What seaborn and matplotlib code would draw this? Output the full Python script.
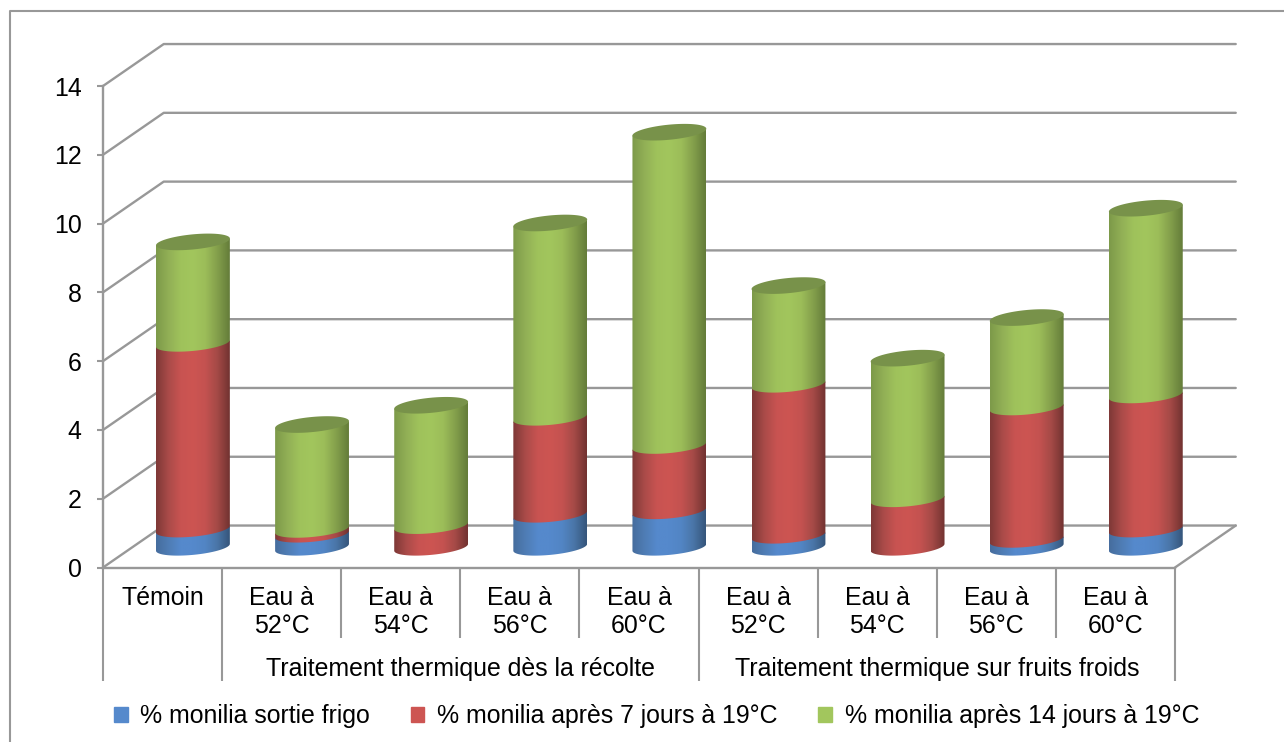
import numpy as np
import seaborn as sns
import matplotlib.pyplot as plt
from matplotlib.lines import Line2D
from matplotlib.patches import Patch, Polygon

categories = ['Témoin', 'Eau à\n52°C', 'Eau à\n54°C', 'Eau à\n56°C', 'Eau à\n60°C',
              'Eau à\n52°C', 'Eau à\n54°C', 'Eau à\n56°C', 'Eau à\n60°C']
groups = ['Traitement thermique dès la récolte', 'Traitement thermique sur fruits froids']
series_names = ['% monilia sortie frigo', '% monilia après 7 jours à 19°C', '% monilia après 14 jours à 19°C']
sortie_frigo = [0.53, 0.38, 0.0, 0.96, 1.06, 0.35, 0.0, 0.23, 0.53]
apres_7j = [5.4, 0.14, 0.63, 2.82, 1.9, 4.39, 1.41, 3.85, 3.9]
apres_14j = [2.95, 3.05, 3.5, 5.65, 9.11, 2.87, 4.09, 2.6, 5.43]
y_ticks = [0, 2, 4, 6, 8, 10, 12, 14]

grey = '#989898'
# edge to edge shading of each cylinder
shades = [['#466d9e', '#4f7db5', '#5589cc', '#5589cc', '#5285c4', '#4a76a8', '#36567c'],
          ['#7f3937', '#ab4b49', '#c85351', '#cd5552', '#c45250', '#a54a47', '#733331'],
          ['#7d9a4a', '#92b056', '#9fc25b', '#a2c65d', '#9cbd59', '#84a04c', '#657d3a']]
top_colour = '#78924a'

depth_x, depth_y = 0.51, 1.22   # back wall offset
floor = 0.587                   # bars stand half way into the floor
arc = 0.22
shear = 0.1
overlap = 0.03                  # hides the seam between two segments

sns.set_theme(style='white')
plt.rcParams['font.family'] = ['Liberation Sans', 'DejaVu Sans']
fs = 17.9

fig = plt.figure(figsize=(12.84, 7.42), dpi=100, facecolor='white')
ax = fig.add_axes([103 / 1284, 1 - 567.5 / 742, 1072 / 1284, 481.5 / 742])

x = np.arange(len(categories))
stacks = np.array([sortie_frigo, apres_7j, apres_14j])
bottoms = floor + np.vstack([np.zeros(len(x)), np.cumsum(stacks, axis=0)[:-1]])

# back wall and floor
for v in y_ticks:
    ax.plot([-0.5, -0.5 + depth_x, 8.5 + depth_x], [v, v + depth_y, v + depth_y],
            color=grey, lw=1.7, clip_on=False, zorder=1)
ax.plot([8.5, 8.5 + depth_x], [0, depth_y], color=grey, lw=1.7, clip_on=False, zorder=1)


def front_arc(cx, hw, v):
    t = np.linspace(np.pi, 0, 60)
    return cx + hw * np.cos(t), v + shear * np.cos(t) - arc * np.sin(t)


for i, name in enumerate(series_names):
    sns.barplot(x=x, y=stacks[i], bottom=bottoms[i], width=0.62, native_scale=True,
                errorbar=None, color=shades[i][3], saturation=1, ax=ax)
    gradient = np.array(sns.blend_palette(shades[i], n_colors=64))[None, :, :]
    for bar in ax.containers[-1]:
        bar.set_visible(False)
        # the cylinders sit half way into the depth
        left, w = bar.get_x() + depth_x / 2, bar.get_width()
        cx, hw = left + w / 2, w / 2
        low, high = bar.get_y(), bar.get_y() + bar.get_height()
        if low > floor:
            low -= overlap
        if i == 2:
            high += overlap
        ax_, ay_ = front_arc(cx, hw, low)
        bx_, by_ = front_arc(cx, hw, high)
        outline = np.column_stack([np.r_[ax_, bx_[::-1]], np.r_[ay_, by_[::-1]]])
        # lower segments go over the upper ones
        im = ax.imshow(gradient, extent=(left, left + w, low - 0.5, high + 0.5),
                       aspect='auto', interpolation='bilinear', zorder=3.5 - i * 0.1)
        im.set_clip_path(Polygon(outline, closed=True, transform=ax.transData))
        im.set_clip_box(fig.bbox)

# top faces
tops = floor + stacks.sum(axis=0)
for cx, v in zip(x + depth_x / 2, tops):
    t = np.linspace(0, 2 * np.pi, 120)
    ax.fill(cx + 0.31 * np.cos(t), v + shear * np.cos(t) - arc * np.sin(t),
            color=top_colour, lw=0, zorder=4, clip_on=False)

ax.set_xlim(-0.5, 8.5)
ax.set_ylim(0, 14)

sns.despine(ax=ax)
for side in ['left', 'bottom']:
    ax.spines[side].set_color(grey)
    ax.spines[side].set_linewidth(1.7)

ax.set_yticks(y_ticks)
ax.set_yticklabels([str(v) for v in y_ticks], fontsize=fs, color='black')
ax.tick_params(axis='y', left=True, length=4.3, width=1.5, color=grey, pad=11)
ax.set_xticks([-0.5, 0.5, 4.5, 8.5])
ax.set_xticklabels([])
ax.set_xticks([1.5, 2.5, 3.5, 5.5, 6.5, 7.5], minor=True)
ax.tick_params(axis='x', which='major', bottom=True, length=81.5, width=1.5, color=grey)
ax.tick_params(axis='x', which='minor', bottom=True, length=50.5, width=1.5, color=grey)
ax.set_xlabel('')
ax.set_ylabel('')

for pos, lab in zip(x, categories):
    ax.annotate(lab, xy=(pos, 0), xycoords=('data', 'axes fraction'), xytext=(0, -13.5),
                textcoords='offset points', ha='center', va='top', fontsize=fs,
                linespacing=1.2, color='black')
for pos, lab in zip([2.5, 6.5], groups):
    ax.annotate(lab, xy=(pos, 0), xycoords=('data', 'axes fraction'), xytext=(0, -64.5),
                textcoords='offset points', ha='center', va='top', fontsize=fs, color='black')

handles = [Patch(color=shades[i][3], label=series_names[i]) for i in range(3)]
fig.legend(handles=handles, ncol=3, loc='center', bbox_to_anchor=(656.5 / 1284, 1 - 716 / 742),
           frameon=False, fontsize=fs, labelcolor='black', handlelength=0.55, handleheight=0.55,
           handletextpad=0.5, columnspacing=1.65, borderpad=0)

# chart frame, open at the right and bottom
fig.add_artist(Line2D([10.5 / 1284, 10.5 / 1284, 1], [0, 1 - 11 / 742, 1 - 11 / 742],
                      color=grey, lw=1.5))

fig.savefig('out.png', dpi=100)
